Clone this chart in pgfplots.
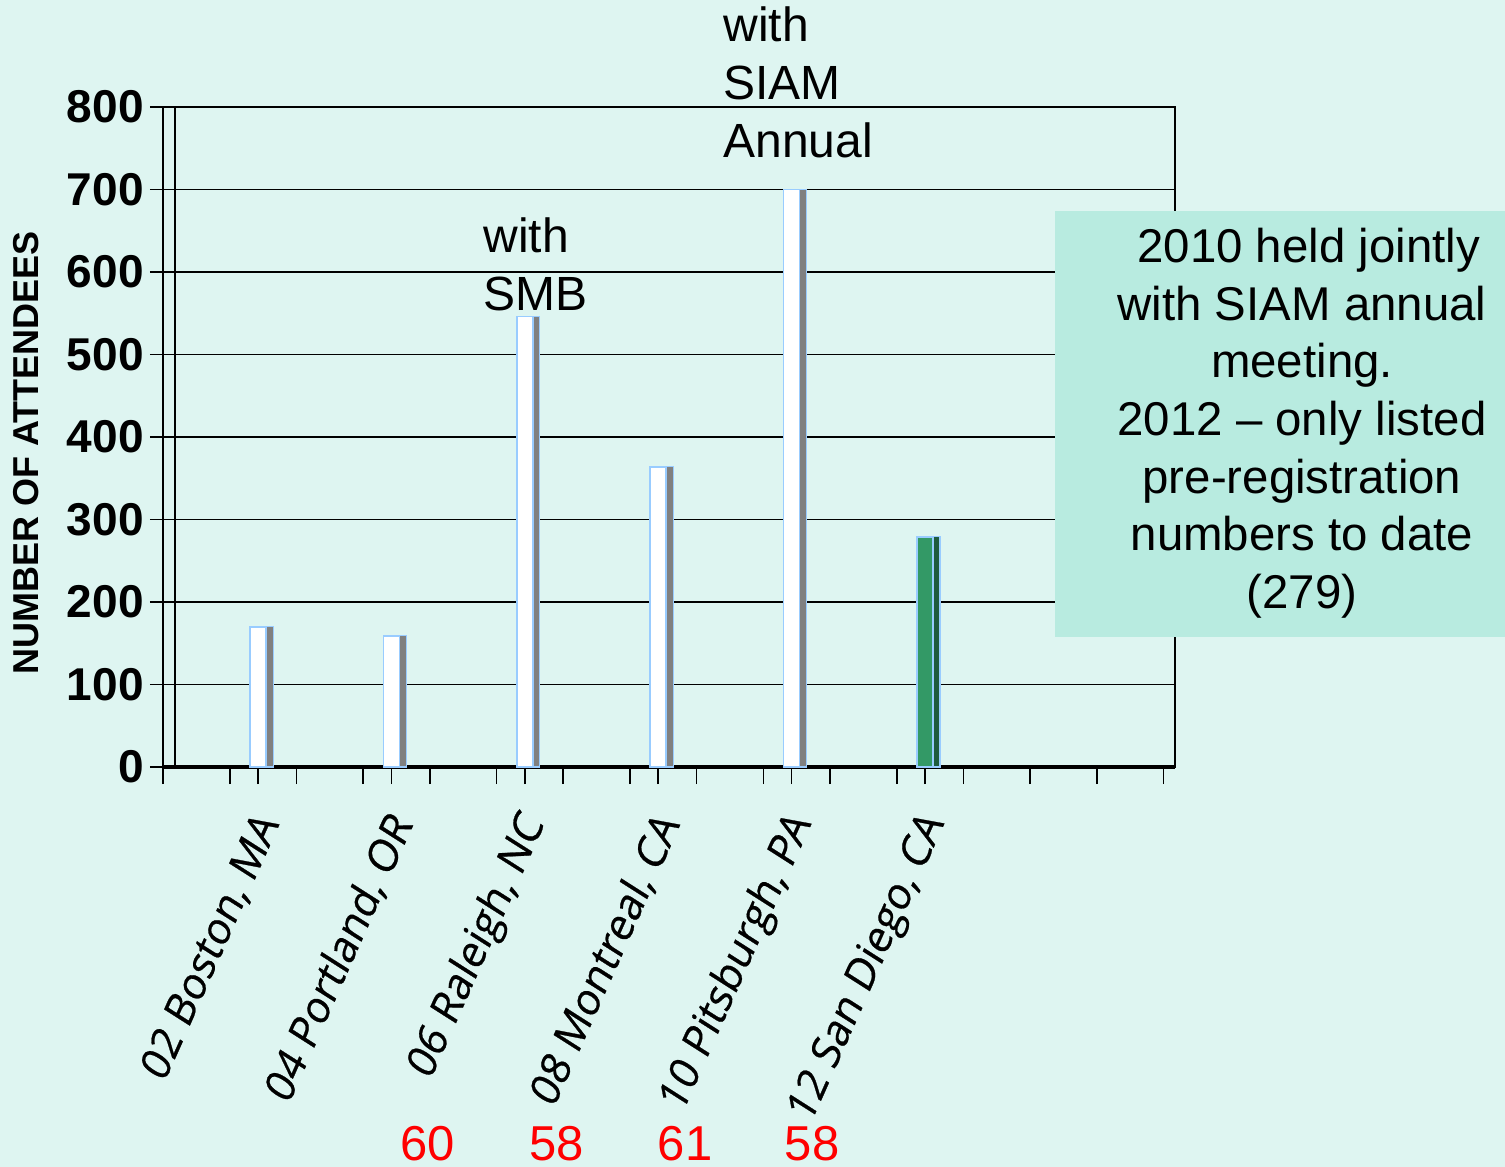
\documentclass[border=0pt]{standalone}
\usepackage{pgfplots}
\pgfplotsset{compat=1.18}
\usepackage{fontspec}
\setmainfont{Liberation Sans}
\newfontfamily\labfont[FakeSlant=0.15, FakeBold=0.6]{Open Sans}
\definecolor{bg}{HTML}{DEF5F1}
\definecolor{boxc}{HTML}{B8EBE0}
\definecolor{barline}{HTML}{99CCFF}
\definecolor{sidegray}{HTML}{808080}
\definecolor{grn}{HTML}{339966}
\definecolor{dgrn}{HTML}{1F5C3D}
\begin{document}
\begin{tikzpicture}
\fill[bg] (0,0) rectangle (752.5pt,-583.5pt);
\path[use as bounding box] (0,0) rectangle (752.5pt,-583.5pt);
\begin{axis}[
  at={(81.5pt,-383.5pt)}, anchor=south west,
  scale only axis, width=506pt, height=330pt,
  xmin=-0.713, xmax=6.874, ymin=0, ymax=800,
  clip=false,
  axis line style={black, line width=0.8pt},
  ytick={0,100,...,800},
  ymajorgrids, grid style={black, line width=0.8pt},
  ytick align=outside, ytick pos=left,
  xtick align=outside, xtick pos=bottom,
  major tick length=6.5pt,
  tick style={black, line width=0.8pt},
  yticklabel style={font=\fontsize{23}{23}\selectfont\bfseries, inner sep=0pt, xshift=-3pt},
  /pgf/number format/assume math mode=true,
  xtick={-0.7121,-0.2121,0.2879,0.7879,1.2879,1.7879,2.2879,2.7879,3.2879,3.7879,4.2879,4.7879,5.2879,5.7879,6.2879,6.7879},
  xticklabels={},
  x tick style={/pgfplots/major tick length=8.5pt},
  extra x ticks={0,1,2,3,4,5},
  extra x tick labels={{02 Boston, MA},{04 Portland, OR},{06 Raleigh, NC},{08 Montreal, CA},{10 Pitsburgh, PA},{12 San Diego, CA}},
  extra x tick style={major tick length=0pt, grid=none,
    xticklabel style={font=\labfont\fontsize{21}{21}\selectfont, inner sep=0pt, anchor=east, xshift=5pt, yshift=-26pt, rotate=66}},
]
% back wall left edge
\draw[black, line width=0.8pt] (axis cs:-0.622,0) -- (axis cs:-0.622,800);
% floor line
\draw[black, line width=2pt] (axis cs:-0.713,0) -- (axis cs:6.874,0);
% side faces
\addplot[ybar, bar width=3.5pt, bar shift=5.75pt, fill=sidegray, draw=barline, line width=0.6pt]
  coordinates {(0,170) (1,159) (2,546) (3,364) (4,700)};
\addplot[ybar, bar width=3.5pt, bar shift=5.75pt, fill=dgrn, draw=barline, line width=0.6pt]
  coordinates {(5,279)};
% front faces
\addplot[ybar, bar width=8pt, bar shift=0pt, fill=white, draw=barline, line width=0.8pt]
  coordinates {(0,170) (1,159) (2,546) (3,364) (4,700)};
\addplot[ybar, bar width=8pt, bar shift=0pt, fill=grn, draw=barline, line width=0.8pt]
  coordinates {(5,279)};
\end{axis}
% y label
\node[rotate=90, font=\fontsize{18}{18}\selectfont\bfseries] at (13pt,-226.5pt) {NUMBER OF ATTENDEES};
% annotations
\begin{scope}[every node/.style={font=\fontsize{24}{24}\selectfont, inner sep=0pt, anchor=base west}]
\node at (241.5pt,-126pt) {with};
\node at (241.5pt,-155pt) {SMB};
\node at (361.5pt,-20.5pt) {with};
\node at (361.5pt,-49.5pt) {SIAM};
\node at (361.5pt,-78.5pt) {Annual};
\end{scope}
% note box
\fill[boxc] (527.5pt,-105.5pt) rectangle (752.5pt,-318.5pt);
\node[align=center, anchor=north, inner sep=0pt, font=\fontsize{23.7}{28.8}\selectfont] at (651pt,-114pt)
  {\hspace*{0.28em}2010 held jointly\\with SIAM annual\\meeting.\\2012 -- only listed\\pre-registration\\numbers to date\\(279)};
% red numbers
\begin{scope}[every node/.style={font=\fontsize{24.5}{24.5}\selectfont, text=red, inner sep=0pt, anchor=base}]
\node at (214pt,-580pt) {60};
\node at (278.5pt,-580pt) {58};
\node at (342.5pt,-580pt) {61};
\node at (406pt,-580pt) {58};
\end{scope}
\end{tikzpicture}
\end{document}
